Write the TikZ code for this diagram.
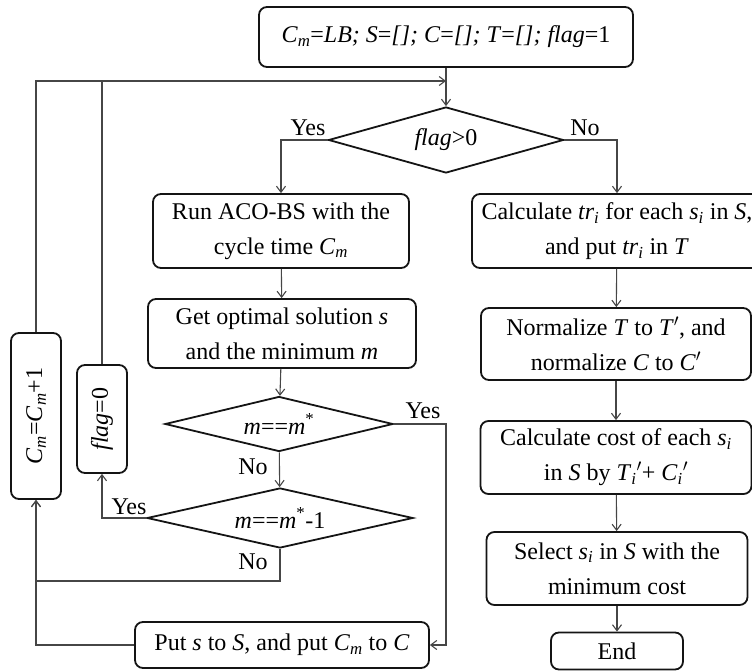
\documentclass[tikz,border=0pt]{standalone}
\usepackage{fontspec}
\setmainfont{Liberation Serif}
\usepackage{tikz}
\usetikzlibrary{arrows,arrows.meta,shapes,positioning}
\usepackage{xcolor}
\definecolor{fcline}{RGB}{70,70,70}
\definecolor{fcborder}{RGB}{20,20,20}
\tikzstyle{arrow} = [line width=1.1pt,-{Straight Barb[length=6pt,width=9pt,line width=1.1pt]},color=fcline]
\tikzstyle{line} = [line width=1.1pt,color=fcline]
\tikzstyle{procbox} = [rectangle, rounded corners=8pt, text centered, align=center, draw=fcborder, line width=1.8pt, inner sep=2pt]
\tikzstyle{decision} = [diamond, aspect=4, inner sep=0pt, text centered, draw=fcborder, line width=1.8pt]
\tikzstyle{answer} = [inner sep=1pt]
\newcommand{\vCm}{\textit{C}\textsubscript{\textit{m}}}
\newcommand{\vsub}[2]{\textit{#1}\textsubscript{\textit{#2}}}

\begin{document}
\begin{tikzpicture}[x=1pt,y=-1pt,font=\fontsize{24}{35}\selectfont]
\useasboundingbox (0,0) rectangle (752,671);
\clip (0,0) rectangle (752,671);
% Left column
\node[procbox, minimum width=374pt, minimum height=60pt] (init) at (446,37) {\vCm=\textit{LB; S}=\textit{[]; C}=\textit{[]; T}=\textit{[]; flag}=1};
\node[decision, minimum width=235pt, minimum height=66pt] (dflag) at (446,140) {\textit{flag}>0};
\node[procbox, minimum width=256pt, minimum height=74pt] (run) at (281,231) {Run ACO-BS with the\\cycle time \vCm};
\node[procbox, minimum width=268pt, minimum height=69pt] (getsol) at (282,333.5) {Get optimal solution \textit{s}\\and the minimum \textit{m}};
\node[decision, minimum width=228pt, minimum height=55pt] (dmstar) at (279,424) {\textit{m}==\textit{m}\textsuperscript{*}};
\node[decision, minimum width=266pt, minimum height=60pt] (dmstar1) at (280,518) {\textit{m}==\textit{m}\textsuperscript{*}-1};
\node[procbox, minimum width=294pt, minimum height=46pt] (put) at (282,645) {Put \textit{s} to \textit{S}, and put \vCm{} to \textit{C}};
\node[procbox, rotate=90, minimum width=108pt, minimum height=50pt] (flagzero) at (102,419) {\textit{flag}=0};
\node[procbox, rotate=90, minimum width=166pt, minimum height=50pt] (cminc) at (36,416) {\vCm=\vCm+1};

% Right column
\node[procbox, minimum width=290pt, minimum height=74pt] (calc) at (617,231) {Calculate \vsub{tr}{i} for each \vsub{s}{i} in \textit{S},\\and put \vsub{tr}{i} in \textit{T}};
\node[procbox, minimum width=270pt, minimum height=72pt] (norm) at (616,344) {Normalize \textit{T} to \textit{T}$'$, and\\normalize \textit{C} to \textit{C}$'$};
\node[procbox, minimum width=271pt, minimum height=73pt] (cost) at (616,457.5) {Calculate cost of each \vsub{s}{i}\\in \textit{S} by \vsub{T}{i}$'$+ \vsub{C}{i}$'$};
\node[procbox, minimum width=261pt, minimum height=73pt] (select) at (617,568.5) {Select \vsub{s}{i} in \textit{S} with the\\minimum cost};
\node[procbox, minimum width=132pt, minimum height=37pt] (finish) at (617,651) {End};

% Helper points
\coordinate (looptop) at (446,81);
\coordinate (nojoin) at (280,581);

% Arrows
\draw[arrow] (init) -- (dflag);
\draw[arrow] (dflag.west) -| (run.north);
\draw[arrow] (dflag.east) -| (calc.north);
\draw[arrow] (run) -- (getsol);
\draw[arrow] (getsol) -- (dmstar);
\draw[arrow] (dmstar) -- (dmstar1);
\draw[arrow] (dmstar.east) -- (dmstar.east -| init.south) |- (put.east);
\draw[arrow] (dmstar1.west) -| (flagzero.west);
\draw[arrow] (dmstar1.south) -- (nojoin) -| (cminc.west);
\draw[arrow] (put.west) -| (cminc.west);
\draw[arrow] (cminc.east) |- (looptop);
\draw[line] (flagzero.east) -- (flagzero.east |- looptop);
\draw[arrow] (calc) -- (norm);
\draw[arrow] (norm) -- (cost);
\draw[arrow] (cost) -- (select);
\draw[arrow] (select) -- (finish);

% Labels
\node[answer] (yes1) at (308,128) {Yes};
\node[answer] (no1) at (585,128) {No};
\node[answer] (yes2) at (423,411) {Yes};
\node[answer] (no2) at (253,467) {No};
\node[answer] (yes3) at (129,507) {Yes};
\node[answer] (no3) at (253,562) {No};
\end{tikzpicture}
\end{document}
